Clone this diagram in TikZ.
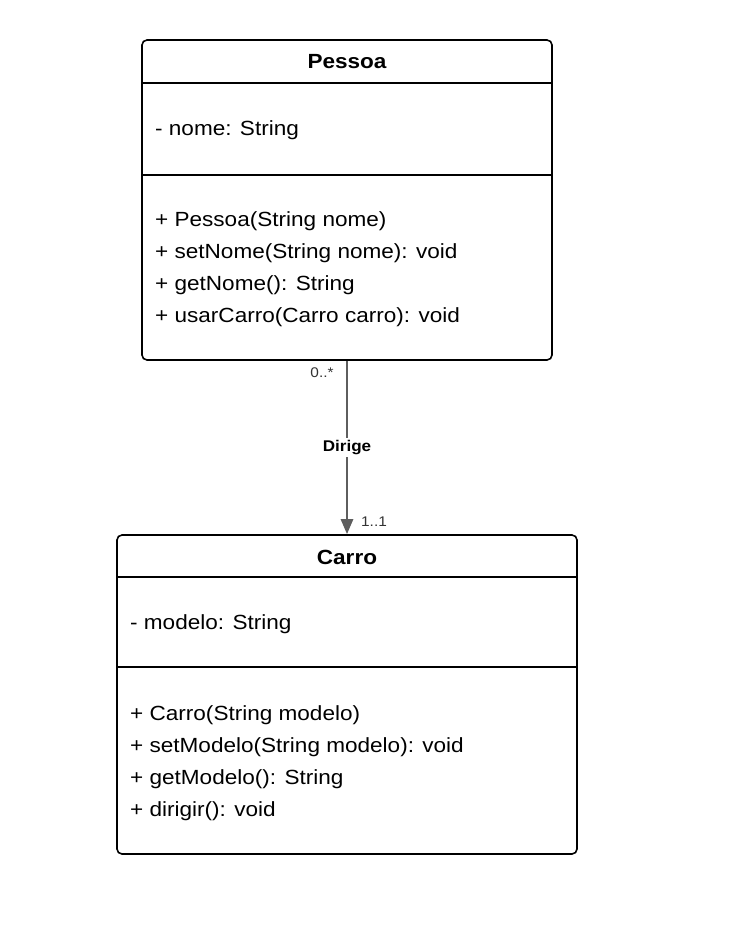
\documentclass[tikz,border=0pt]{standalone}
\usepackage{fontspec}
\setmainfont{Liberation Sans}[FakeStretch=1.1]
\usepackage{tikz}
\usetikzlibrary{arrows.meta}

\definecolor{linkgray}{HTML}{5E5E5E}

\tikzset{
  classbox/.style={draw=black, line width=1.6pt, rounded corners=5pt, rectangle, inner sep=0pt},
  classname/.style={font=\fontsize{20.5}{24}\selectfont\bfseries, inner sep=0pt},
  member/.style={anchor=west, font=\fontsize{20.5}{24}\selectfont, inner sep=0pt},
  mult/.style={font=\fontsize{14}{16}\selectfont, inner sep=1pt, text=black!80},
}

\begin{document}
\begin{tikzpicture}[x=1pt, y=-1pt]
\useasboundingbox (0,0) rectangle (732,926);
% Pessoa
\node [classbox, minimum width=410pt, minimum height=320pt] (pessoa) at (347,200) {};
\draw [line width=1.6pt] (142,83) -- (552,83);
\draw [line width=1.6pt] (142,175) -- (552,175);
\node [classname] (pessoaname) at (347,62) {Pessoa};
\node [member] (nome) at (155,130) {- nome: String};
\node [member] (pm1) at (155,221) {+ Pessoa(String nome)};
\node [member] (pm2) at (155,253) {+ setNome(String nome): void};
\node [member] (pm3) at (155,285) {+ getNome(): String};
\node [member] (pm4) at (155,317) {+ usarCarro(Carro carro): void};
% Carro
\node [classbox, minimum width=460pt, minimum height=319pt] (carro) at (347,694.5) {};
\draw [line width=1.6pt] (117,577) -- (577,577);
\draw [line width=1.6pt] (117,667) -- (577,667);
\node [classname] (carroname) at (347,557) {Carro};
\node [member] (modelo) at (130,624) {- modelo: String};
\node [member] (cm1) at (130,715) {+ Carro(String modelo)};
\node [member] (cm2) at (130,747) {+ setModelo(String modelo): void};
\node [member] (cm3) at (130,779) {+ getModelo(): String};
\node [member] (cm4) at (130,811) {+ dirigir(): void};
% associacao
\draw [linkgray, line width=2.6pt, -{Triangle[length=15pt, width=12pt]}] (pessoa.south) -- (carro.north)
  node [pos=0.5, fill=white, inner sep=2pt, text=black, font=\fontsize{15.5}{18}\selectfont\bfseries] (dirige) {Dirige};
\node [mult] (m1) at (322,373) {0..*};
\node [mult] (m2) at (374,522) {1..1};
\end{tikzpicture}
\end{document}
